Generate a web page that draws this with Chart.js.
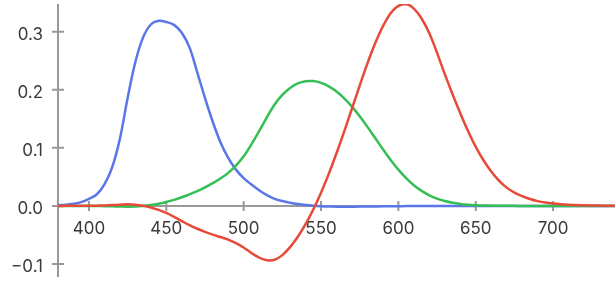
<!DOCTYPE html>
<html lang="en">
<head>
    <meta charset="UTF-8">
    <title>Colour matching functions</title>
    <script src="https://cdn.jsdelivr.net/npm/chart.js@4.4.1/dist/chart.umd.min.js"></script>
    <style>
        body {
            margin: 0;
            padding: 0;
            background: #fff;
        }
        .wrap {
            width: 615px;
            height: 281px;
            position: relative;
        }
    </style>
</head>
<body>
<div class="wrap">
    <canvas id="cmf" width="615" height="281"></canvas>
</div>
<script>
// wavelength in nm, 5 nm steps
const wavelengths = [];
for (let w = 380; w <= 740; w += 5) wavelengths.push(w);

const redValues = [
    0.00003, 0.00005, 0.00010, 0.00017, 0.00030, 0.00047, 0.00084, 0.00139, 0.00211, 0.00266,
    0.00218, 0.00036, -0.00261, -0.00673, -0.01213, -0.01874, -0.02608, -0.03324, -0.03933, -0.04471,
    -0.04939, -0.05364, -0.05814, -0.06414, -0.07173, -0.08120, -0.08901, -0.09356, -0.09264, -0.08473,
    -0.07101, -0.05316, -0.03152, -0.00613, 0.02279, 0.05514, 0.09060, 0.12840, 0.16768, 0.20715,
    0.24526, 0.27989, 0.30928, 0.33184, 0.34429, 0.34756, 0.33971, 0.32265, 0.29708, 0.26348,
    0.22677, 0.19233, 0.15968, 0.12905, 0.10167, 0.07857, 0.05932, 0.04366, 0.03149, 0.02294,
    0.01687, 0.01187, 0.00819, 0.00572, 0.00410, 0.00291, 0.00210, 0.00148, 0.00105, 0.00074,
    0.00052, 0.00036, 0.00025
];
const greenValues = [
    -0.00001, -0.00002, -0.00004, -0.00007, -0.00014, -0.00022, -0.00041, -0.00070, -0.00110, -0.00143,
    -0.00119, -0.00021, 0.00149, 0.00379, 0.00678, 0.01046, 0.01485, 0.01977, 0.02538, 0.03183,
    0.03914, 0.04713, 0.05689, 0.06948, 0.08536, 0.10593, 0.12860, 0.15262, 0.17468, 0.19113,
    0.20317, 0.21083, 0.21466, 0.21487, 0.21178, 0.20588, 0.19702, 0.18522, 0.17087, 0.15429,
    0.13610, 0.11686, 0.09754, 0.07909, 0.06246, 0.04776, 0.03557, 0.02583, 0.01828, 0.01253,
    0.00833, 0.00537, 0.00334, 0.00199, 0.00116, 0.00066, 0.00037, 0.00021, 0.00011, 0.00006,
    0.00003, 0.00001, 0.00001, 0, 0, 0, 0, 0, 0, 0,
    0, 0, 0
];
const blueValues = [
    0.00117, 0.00189, 0.00359, 0.00647, 0.01214, 0.01969, 0.03707, 0.06637, 0.11541, 0.18575,
    0.24769, 0.29012, 0.31228, 0.31860, 0.31670, 0.31166, 0.29821, 0.27295, 0.22991, 0.18592,
    0.14494, 0.10968, 0.08257, 0.06246, 0.04776, 0.03688, 0.02698, 0.01842, 0.01221, 0.00830,
    0.00549, 0.00320, 0.00146, 0.00023, -0.00058, -0.00105, -0.00130, -0.00138, -0.00135, -0.00123,
    -0.00108, -0.00093, -0.00079, -0.00063, -0.00049, -0.00038, -0.00030, -0.00022, -0.00015, -0.00011,
    -0.00008, -0.00005, -0.00003, -0.00002, -0.00001, -0.00001, 0, 0, 0, 0,
    0, 0, 0, 0, 0, 0, 0, 0, 0, 0,
    0, 0, 0
];

const xTicks = [400, 450, 500, 550, 600, 650, 700];
const yTicks = [-0.1, 0.0, 0.1, 0.2, 0.3];
const yTickLabels = ['\u22120.1', '0.0', '0.1', '0.2', '0.3'];

function pts(values) {
    return values.map((v, i) => ({ x: wavelengths[i], y: v }));
}

// axes crossing at x=380 / y=0 with ticks through the line
const crossAxes = {
    id: 'crossAxes',
    beforeDatasetsDraw(chart) {
        const ctx = chart.ctx;
        const xs = chart.scales.x, ys = chart.scales.y;
        const x0 = xs.getPixelForValue(380);
        const y0 = ys.getPixelForValue(0);
        ctx.save();
        ctx.strokeStyle = '#999';
        ctx.lineWidth = 2;
        ctx.beginPath();
        ctx.moveTo(x0, ys.top);
        ctx.lineTo(x0, ys.bottom);
        ctx.moveTo(x0, y0);
        ctx.lineTo(xs.right, y0);
        yTicks.forEach(t => {
            const y = ys.getPixelForValue(t);
            ctx.moveTo(x0 - 6, y);
            ctx.lineTo(x0 + 6, y);
        });
        xTicks.forEach(t => {
            const x = xs.getPixelForValue(t);
            ctx.moveTo(x, y0 - 5);
            ctx.lineTo(x, y0 + 5);
        });
        ctx.stroke();

        ctx.fillStyle = '#3a3a3a';
        ctx.font = '17px Inter, sans-serif';
        ctx.textAlign = 'right';
        ctx.textBaseline = 'alphabetic';
        yTicks.forEach((t, i) => {
            ctx.fillText(yTickLabels[i], x0 - 15, ys.getPixelForValue(t) + 8.5);
        });
        ctx.textAlign = 'center';
        xTicks.forEach(t => {
            ctx.fillText(String(t), xs.getPixelForValue(t), y0 + 28);
        });
        ctx.restore();
    }
};

const ctx = document.getElementById('cmf').getContext('2d');
new Chart(ctx, {
    type: 'line',
    data: {
        datasets: [
            { label: 'r', data: pts(redValues), borderColor: 'rgb(232,74,58)' },
            { label: 'g', data: pts(greenValues), borderColor: 'rgb(52,190,84)' },
            { label: 'b', data: pts(blueValues), borderColor: 'rgb(90,118,232)' }
        ]
    },
    options: {
        responsive: false,
        animation: false,
        layout: { padding: { left: 58, top: 4, right: 0, bottom: 4 } },
        elements: {
            point: { radius: 0 },
            line: { borderWidth: 2.5, tension: 0.35, fill: false }
        },
        plugins: { legend: { display: false }, tooltip: { enabled: false } },
        scales: {
            x: { type: 'linear', min: 380, max: 740, display: false },
            y: { type: 'linear', min: -0.1224, max: 0.3476, display: false }
        }
    },
    plugins: [crossAxes]
});
</script>
</body>
</html>
